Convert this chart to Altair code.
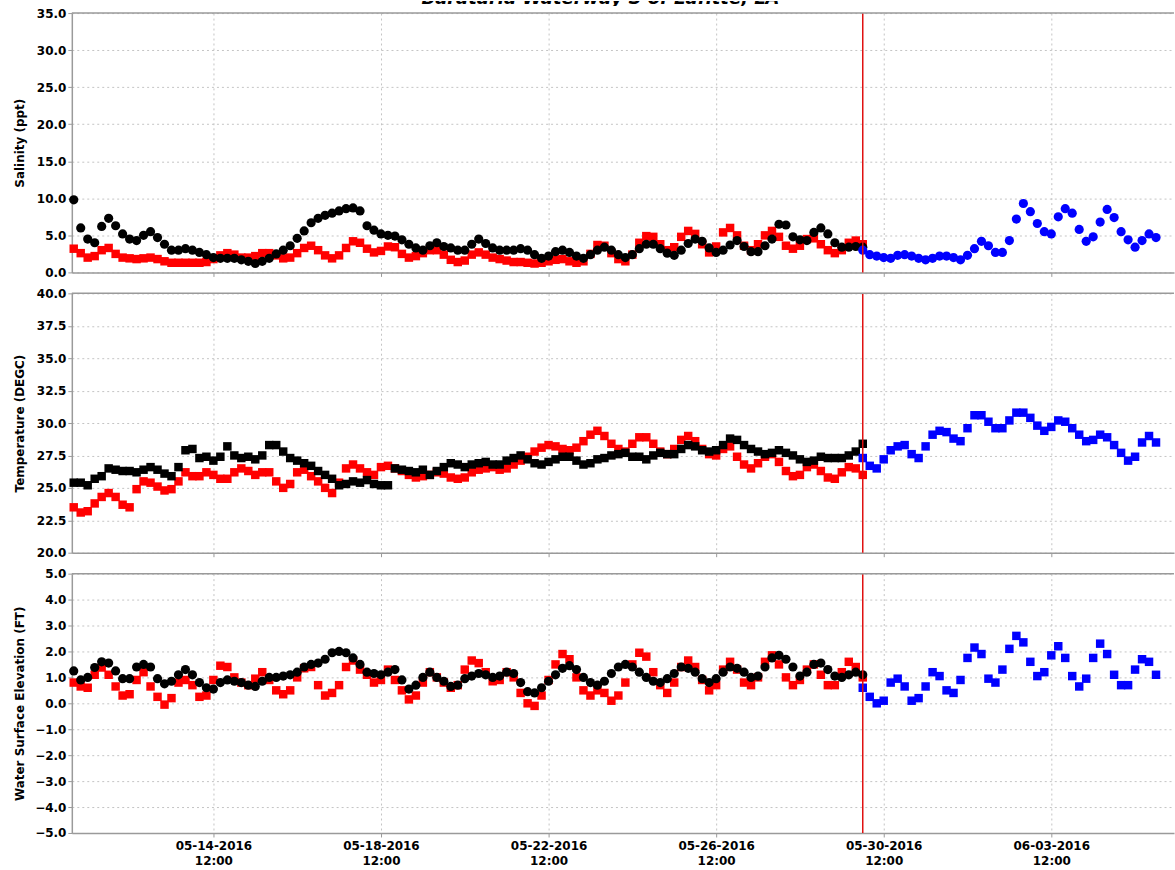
import altair as alt
import pandas as pd

TITLE = "Barataria Waterway S of Lafitte, LA"
OBS_START = "2016-05-11T04:00:00Z"   # first observed/model point (4-hourly)
FCST_START = "2016-05-30T00:00:00Z"  # forecast start
CUTOFF = "2016-05-30T00:00:00Z"
STEP = "4h"

# ---------------- Salinity (ppt) ----------------
sal_black = [
    9.8, 6.0, 4.5, 4.0, 6.2,
    7.3, 6.3, 5.2, 4.5, 4.3, 5.0,
    5.5, 4.7, 3.8, 3.0, 3.0, 3.2,
    3.0, 2.7, 2.4, 2.0, 1.9, 1.9,
    1.9, 1.7, 1.5, 1.2, 1.5, 1.9,
    2.5, 3.0, 3.6, 4.6, 5.6, 6.7,
    7.3, 7.7, 8.0, 8.3, 8.6, 8.7,
    8.3, 6.3, 5.7, 5.2, 5.0, 4.9,
    4.4, 3.8, 3.3, 3.0, 3.6, 4.0,
    3.5, 3.3, 3.0, 3.0, 3.8, 4.5,
    3.9, 3.3, 3.0, 3.0, 3.0, 3.2,
    3.0, 2.4, 1.9, 2.2, 2.8, 3.0,
    2.7, 2.2, 1.9, 2.4, 3.0, 3.4,
    3.0, 2.4, 2.0, 2.4, 3.2, 3.8,
    3.8, 3.2, 2.6, 2.3, 3.0, 3.9,
    4.5, 4.2, 3.3, 2.7, 3.0, 3.7,
    4.3, 3.5, 2.8, 2.8, 3.6, 4.5,
    6.5, 6.4, 4.8, 4.4, 4.3, 5.4,
    6.0, 5.2, 4.0, 3.4, 3.4, 3.5,
    3.4,
]
sal_red = [
    3.2, 2.6, 2.0, 2.2, 3.0,
    3.3, 2.5, 2.0, 1.9, 1.8, 1.9,
    2.0, 1.8, 1.5, 1.3, 1.3, 1.3,
    1.3, 1.3, 1.4, 1.8, 2.3, 2.6,
    2.4, 2.0, 2.0, 2.2, 2.6, 2.6,
    2.3, 1.9, 2.0, 2.6, 3.3, 3.6,
    3.0, 2.3, 1.9, 2.3, 3.3, 4.2,
    4.0, 3.2, 2.7, 2.9, 3.5, 3.4,
    2.5, 2.0, 2.2, 2.6, 3.0, 3.0,
    2.4, 1.7, 1.4, 1.6, 2.4, 2.7,
    2.4, 2.0, 1.8, 1.6, 1.4, 1.4,
    1.3, 1.2, 1.3, 1.5, 1.7, 1.8,
    1.5, 1.3, 1.5, 2.5, 3.7, 3.6,
    2.6, 1.8, 1.5, 2.4, 4.0, 4.9,
    4.8, 3.8, 3.0, 3.4, 4.8, 5.6,
    5.2, 3.8, 2.7, 3.5, 5.4, 6.0,
    5.0, 3.6, 3.0, 3.8, 5.0, 5.6,
    4.8, 3.6, 3.2, 3.6, 4.5, 4.6,
    3.8, 3.0, 2.6, 3.0, 4.0, 4.3,
    3.8,
]
sal_blue = [
    3.0, 2.4, 2.2, 2.0, 1.9, 2.3,
    2.4, 2.2, 1.9, 1.7, 1.9, 2.2,
    2.2, 2.0, 1.7, 2.3, 3.2, 4.2,
    3.6, 2.7, 2.7, 4.3, 7.2, 9.3,
    8.2, 6.6, 5.5, 5.2, 7.5, 8.6,
    8.0, 5.8, 4.2, 4.8, 6.8, 8.5,
    7.4, 5.5, 4.4, 3.4, 4.3, 5.2,
    4.7,
]

# ---------------- Temperature (DEGC) ----------------
tmp_black = [
    25.4, 25.4, 25.2, 25.7, 25.9,
    26.5, 26.4, 26.3, 26.3, 26.2, 26.4,
    26.6, 26.4, 26.1, 25.9, 26.6, 27.9,
    28.0, 27.3, 27.4, 27.1, 27.4, 28.2,
    27.5, 27.3, 27.4, 27.2, 27.5, 28.3,
    28.3, 27.8, 27.3, 27.1, 26.9, 26.7,
    26.3, 26.0, 25.7, 25.2, 25.3, 25.5,
    25.4, 25.6, 25.3, 25.2, 25.2, 26.5,
    26.4, 26.3, 26.2, 26.4, 26.0, 26.3,
    26.6, 26.9, 26.8, 26.6, 26.8, 26.9,
    27.0, 26.8, 26.8, 27.1, 27.3, 27.5,
    27.2, 26.9, 26.8, 27.0, 27.2, 27.4,
    27.4, 27.1, 26.8, 26.9, 27.2, 27.3,
    27.5, 27.6, 27.7, 27.4, 27.4, 27.2,
    27.5, 27.7, 27.6, 27.6, 28.0, 28.3,
    28.2, 27.9, 27.8, 27.9, 28.3, 28.8,
    28.7, 28.3, 28.0, 27.8, 27.6, 27.7,
    27.9, 27.7, 27.5, 27.2, 27.0, 27.1,
    27.4, 27.3, 27.3, 27.3, 27.5, 27.8,
    28.4,
]
tmp_red = [
    23.5, 23.1, 23.2, 23.8, 24.3,
    24.6, 24.3, 23.7, 23.5, 24.9, 25.5,
    25.4, 25.1, 24.8, 24.9, 25.5, 26.2,
    25.9, 25.9, 26.2, 26.0, 25.7, 25.7,
    26.2, 26.5, 26.3, 26.0, 26.2, 26.2,
    25.5, 25.0, 25.3, 26.2, 26.4, 25.9,
    25.5, 25.0, 24.6, 25.4, 26.5, 26.8,
    26.5, 26.2, 26.0, 26.6, 26.7, 26.5,
    26.3, 26.0, 25.8, 25.9, 26.0, 26.2,
    26.1, 25.8, 25.7, 25.8, 26.2, 26.4,
    26.5, 26.6, 26.4, 26.5, 26.8, 27.1,
    27.4, 27.8, 28.1, 28.3, 28.2, 28.0,
    27.9, 28.1, 28.6, 29.1, 29.4, 29.0,
    28.4, 28.0, 27.8, 28.4, 28.9, 28.9,
    28.4, 27.8, 27.6, 28.0, 28.7, 29.0,
    28.6, 28.0, 27.6, 27.5, 28.0, 28.2,
    27.4, 26.8, 26.5, 26.9, 27.4, 27.6,
    27.0, 26.3, 25.9, 26.0, 26.6, 26.8,
    26.3, 25.8, 25.7, 26.2, 26.6, 26.5,
    26.0,
]
tmp_blue = [
    27.3, 26.7, 26.5, 27.2, 27.9, 28.2,
    28.3, 27.6, 27.3, 28.2, 29.1, 29.4,
    29.3, 28.8, 28.6, 29.6, 30.6, 30.6,
    30.1, 29.6, 29.6, 30.2, 30.8, 30.8,
    30.4, 29.8, 29.4, 29.7, 30.2, 30.1,
    29.6, 29.1, 28.6, 28.7, 29.1, 28.9,
    28.3, 27.7, 27.1, 27.4, 28.5, 29.0,
    28.5,
]

# ---------------- Water Surface Elevation (FT) ----------------
wse_black = [
    1.25, 0.9, 1.0, 1.38, 1.6,
    1.55, 1.25, 0.95, 0.95, 1.4, 1.5,
    1.4, 0.95, 0.75, 0.85, 1.1, 1.3,
    1.1, 0.8, 0.6, 0.55, 0.8, 0.9,
    0.85, 0.8, 0.7, 0.65, 0.85, 1.0,
    1.0, 1.05, 1.1, 1.2, 1.4, 1.5,
    1.55, 1.7, 1.95, 2.0, 1.95, 1.75,
    1.5, 1.2, 1.15, 1.1, 1.2, 1.3,
    0.9, 0.55, 0.7, 1.0, 1.2, 1.0,
    0.85, 0.65, 0.7, 0.95, 1.05, 1.15,
    1.1, 1.0, 1.05, 1.2, 1.15, 0.8,
    0.45, 0.4, 0.6, 0.85, 1.1, 1.35,
    1.45, 1.3, 1.0, 0.8, 0.7, 0.85,
    1.15, 1.4, 1.5, 1.4, 1.2, 1.0,
    0.85, 0.8, 0.95, 1.15, 1.4, 1.35,
    1.2, 0.95, 0.8, 0.95, 1.2, 1.4,
    1.35, 1.2, 1.0, 1.05, 1.4, 1.75,
    1.85, 1.7, 1.4, 1.05, 1.2, 1.5,
    1.55, 1.3, 1.05, 1.0, 1.1, 1.2,
    1.1,
]
wse_red = [
    0.8, 0.65, 0.6, 1.1, 1.38,
    1.1, 0.65, 0.3, 0.35, 0.9, 1.2,
    0.65, 0.25, -0.05, 0.2, 0.8, 0.9,
    0.7, 0.25, 0.3, 0.9, 1.45, 1.4,
    1.0, 0.8, 0.7, 0.95, 1.2, 0.9,
    0.5, 0.35, 0.5, 1.0, 1.35, 1.4,
    0.7, 0.3, 0.4, 0.7, 1.4, 1.65,
    1.3, 1.1, 0.8, 0.9, 1.3, 0.9,
    0.5, 0.15, 0.3, 0.8, 1.2, 1.0,
    0.8, 0.6, 0.7, 1.3, 1.65, 1.55,
    1.2, 0.85, 0.9, 1.2, 1.0, 0.4,
    0.0, -0.1, 0.3, 0.9, 1.5, 1.9,
    1.7, 1.0, 0.5, 0.3, 0.5, 0.4,
    0.1, 0.3, 0.8, 1.5, 1.95, 1.8,
    1.2, 0.7, 0.4, 0.8, 1.4, 1.65,
    1.4, 0.9, 0.5, 0.7, 1.3, 1.6,
    1.3, 0.8, 0.7, 1.0, 1.6, 1.85,
    1.5, 1.0, 0.7, 0.9, 1.3, 1.5,
    1.1, 0.7, 0.7, 1.2, 1.6, 1.4,
    1.0,
]
wse_blue = [
    0.6, 0.25, 0.0, 0.1, 0.8, 0.95,
    0.65, 0.1, 0.2, 0.65, 1.2, 1.05,
    0.5, 0.4, 0.9, 1.75, 2.15, 1.9,
    0.95, 0.8, 1.3, 2.1, 2.6, 2.35,
    1.6, 1.05, 1.2, 1.85, 2.2, 1.75,
    1.05, 0.65, 0.95, 1.75, 2.3, 1.9,
    1.1, 0.7, 0.7, 1.3, 1.7, 1.6,
    1.1,
]

SAL_TICKS = [0, 5, 10, 15, 20, 25, 30, 35]
TMP_TICKS = [20, 22.5, 25, 27.5, 30, 32.5, 35, 37.5, 40]
WSE_TICKS = [-5, -4, -3, -2, -1, 0, 1, 2, 3, 4, 5]

W = 1105
H = 260
FONT = "DejaVu Sans"
GRID = "#c4c4c4"
FRAME = "#9a9a9a"


def series_df(values, start):
    t = pd.date_range(start=pd.Timestamp(start), periods=len(values), freq=STEP)
    return pd.DataFrame({"t": t.strftime("%Y-%m-%dT%H:%M:%SZ"), "v": values})


X_TICKS = [
    alt.DateTime(year=2016, month=5, date=14, hours=12, utc=True),
    alt.DateTime(year=2016, month=5, date=18, hours=12, utc=True),
    alt.DateTime(year=2016, month=5, date=22, hours=12, utc=True),
    alt.DateTime(year=2016, month=5, date=26, hours=12, utc=True),
    alt.DateTime(year=2016, month=5, date=30, hours=12, utc=True),
    alt.DateTime(year=2016, month=6, date=3, hours=12, utc=True),
]
X_SCALE = alt.Scale(
    type="utc",
    domain=[
        alt.DateTime(year=2016, month=5, date=11, hours=2, minutes=54, utc=True),
        alt.DateTime(year=2016, month=6, date=6, hours=10, minutes=18, utc=True),
    ],
)


def x_axis(show_labels):
    return alt.Axis(
        values=X_TICKS,
        title=None,
        grid=True,
        gridColor=GRID,
        gridDash=[2, 3],
        gridWidth=1,
        domain=True,
        domainColor=FRAME,
        domainWidth=1.5,
        ticks=True,
        tickColor=FRAME,
        tickSize=4,
        labels=show_labels,
        labelExpr="[utcFormat(datum.value, '%m-%d-%Y'), utcFormat(datum.value, '%H:%M')]",
        labelFont=FONT,
        labelFontSize=12,
        labelFontWeight="bold",
        labelColor="black",
        labelPadding=4,
        labelLineHeight=15,
    )


def y_axis(ticks, title):
    return alt.Axis(
        values=ticks,
        format=".1f",
        title=title,
        grid=True,
        gridColor=GRID,
        gridDash=[2, 3],
        gridWidth=1,
        domain=True,
        domainColor=FRAME,
        domainWidth=1.5,
        tickColor=FRAME,
        tickSize=4,
        labelFont=FONT,
        labelFontSize=12,
        labelFontWeight="bold",
        labelColor="black",
        labelPadding=2,
        titleFont=FONT,
        titleFontSize=12,
        titleFontWeight="bold",
        titleColor="black",
        titleX=-45,
    )


def panel(black, red, blue, domain, ticks, title, shapes, show_x):
    x_enc = alt.X("t:T", scale=X_SCALE, axis=x_axis(show_x))
    y_enc = alt.Y("v:Q", scale=alt.Scale(domain=domain, nice=False, zero=False), axis=y_axis(ticks, title))

    def size(shape):
        return 85 if shape == "circle" else 72

    red_l = alt.Chart(series_df(red, OBS_START)).mark_point(
        shape=shapes[1], filled=True, color="#ff0000", size=size(shapes[1]), opacity=1, strokeWidth=0
    ).encode(x=x_enc, y=y_enc)
    black_l = alt.Chart(series_df(black, OBS_START)).mark_point(
        shape=shapes[0], filled=True, color="#000000", size=size(shapes[0]), opacity=1, strokeWidth=0
    ).encode(x=x_enc, y=y_enc)
    blue_l = alt.Chart(series_df(blue, FCST_START)).mark_point(
        shape=shapes[2], filled=True, color="#0000ff", size=size(shapes[2]), opacity=1, strokeWidth=0
    ).encode(x=x_enc, y=y_enc)
    cut = pd.DataFrame({"t": [CUTOFF]})
    vline = alt.Chart(cut).mark_rule(color="#e01010", strokeWidth=1.5).encode(x="t:T")
    top = alt.Chart(cut).mark_rule(color=FRAME, strokeWidth=1.5).encode(
        x=alt.value(0), x2=alt.value(W), y=alt.value(0)
    )
    return alt.layer(red_l, black_l, blue_l, vline, top).properties(width=W, height=H)


p_sal = panel(sal_black, sal_red, sal_blue, [0, 35], SAL_TICKS, "Salinity (ppt)",
              ["circle", "square", "circle"], False)
p_tmp = panel(tmp_black, tmp_red, tmp_blue, [20, 40], TMP_TICKS, "Temperature (DEGC)",
              ["square", "square", "square"], False)
p_wse = panel(wse_black, wse_red, wse_blue, [-5, 5], WSE_TICKS, "Water Surface Elevation (FT)",
              ["circle", "square", "square"], True)

strip = alt.Chart(pd.DataFrame({"title": [TITLE]})).mark_text(
    clip=True, font=FONT, fontSize=18, fontWeight="bold", fontStyle="italic",
    align="center", baseline="alphabetic", color="black"
).encode(text="title:N", x=alt.value(530), y=alt.value(3)).properties(width=W, height=5)

panels = alt.vconcat(p_sal, p_tmp, p_wse, spacing=21, bounds="flush")
chart = alt.vconcat(strip, panels, spacing=7, bounds="flush").properties(
    padding={"left": 13, "top": 0, "right": 0, "bottom": 0},
    background="white",
).configure_view(stroke=None)

chart.save("out.html", embed_options={"renderer": "svg", "actions": False})
